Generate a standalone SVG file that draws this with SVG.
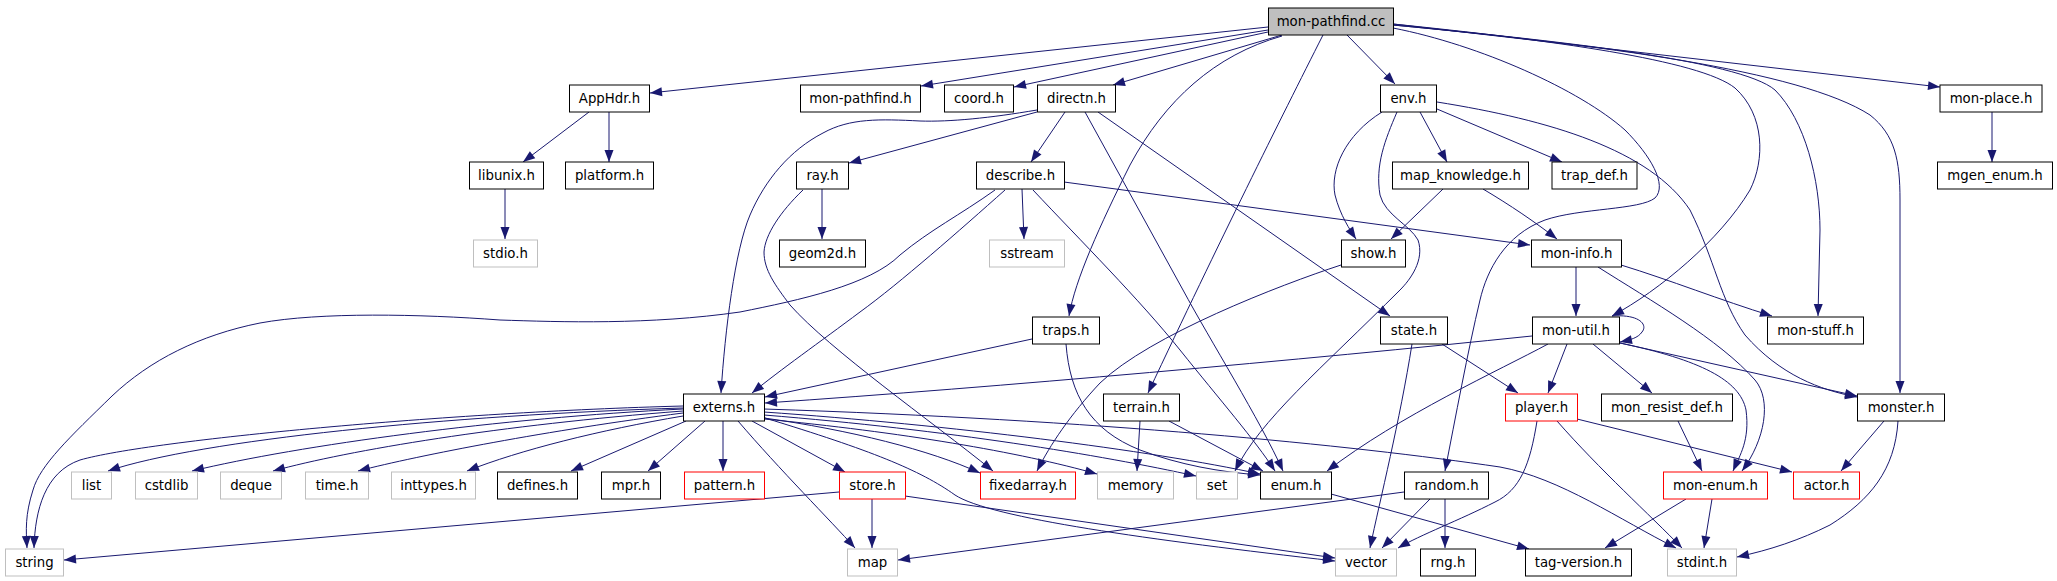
<svg xmlns="http://www.w3.org/2000/svg" width="2057" height="581" viewBox="0 0 2057 581">
<style>
.n rect{fill:#fff;stroke:#000;stroke-width:1}
.n.g rect{stroke:#bfbfbf}
.n.r rect{stroke:#ff0000}
.n.root rect{fill:#bfbfbf}
.n text{font-family:"DejaVu Sans","Liberation Sans",sans-serif;font-size:13.3px;fill:#000;text-anchor:middle}
#edges path{fill:none;stroke:#191970;stroke-width:1;marker-end:url(#a)}
</style>
<defs>
<marker id="a" markerUnits="userSpaceOnUse" markerWidth="13" markerHeight="10" refX="12" refY="5" orient="auto" viewBox="0 0 12 10">
<path d="M0,0.5 L12,5 L0,9.5 z" fill="#191970"/>
</marker>
</defs>
<rect width="2057" height="581" fill="#fff"/>
<g id="edges">
<path d="M1268,27 L650,93"/>
<path d="M1268,30 L921,86"/>
<path d="M1268,32 L1014,87"/>
<path d="M1282,35 L1113,85"/>
<path d="M1282,36 C1215,55 1165,100 1130,165 C1100,225 1075,280 1069,316"/>
<path d="M1323,35 C1280,120 1220,240 1148,393"/>
<path d="M1347,35 L1395,84"/>
<path d="M1393,28 C1480,45 1580,90 1625,130 C1650,155 1668,185 1655,198 C1640,210 1580,208 1545,220 C1505,235 1487,270 1480,300 C1468,350 1455,420 1445,471"/>
<path d="M1393,24 C1550,40 1700,60 1735,88 C1765,115 1765,160 1750,190 C1720,240 1660,290 1612,316"/>
<path d="M1393,25 C1550,40 1740,60 1775,90 C1805,120 1820,180 1820,230 L1818,316"/>
<path d="M1393,25 C1600,45 1800,70 1870,115 C1895,135 1900,160 1900,200 L1900,393"/>
<path d="M1393,24 L1940,87"/>
<path d="M589,112 L523,162"/>
<path d="M609,112 L609,162"/>
<path d="M505,189 L505,239"/>
<path d="M1037,112 L849,163"/>
<path d="M1037,110 C990,118 950,122 920,121 C880,119 850,118 823,133 C790,150 765,180 750,215 C735,250 725,330 721,393"/>
<path d="M1065,112 L1031,162"/>
<path d="M1085,112 L1183,290 C1210,340 1260,420 1283,471"/>
<path d="M1098,112 L1390,316"/>
<path d="M822,189 L822,239"/>
<path d="M803,190 C780,212 765,235 764,252 C764,270 775,285 790,305 C830,350 930,420 993,471"/>
<path d="M995,190 C960,215 930,230 900,255 C870,285 800,300 740,312 C650,325 560,322 500,320 C420,314 320,312 260,323 C200,335 150,360 112,396 C70,437 40,465 33,490 C25,515 26,530 27,548"/>
<path d="M1005,190 C960,230 900,283 860,312 C820,342 780,370 752,393"/>
<path d="M1022,189 L1024,239"/>
<path d="M1033,190 C1080,240 1140,300 1180,350 C1220,400 1255,440 1275,471"/>
<path d="M1064,182 L1530,245"/>
<path d="M1382,112 C1345,135 1330,170 1335,195 C1340,215 1350,230 1356,239"/>
<path d="M1397,112 C1385,140 1375,165 1380,195 C1385,215 1410,225 1418,240 C1425,260 1410,280 1400,290 C1320,370 1260,420 1235,471"/>
<path d="M1420,112 L1447,162"/>
<path d="M1437,109 L1562,162"/>
<path d="M1437,102 C1550,120 1650,150 1690,210 C1715,260 1720,300 1745,335 C1780,375 1820,390 1857,397"/>
<path d="M1443,189 L1391,239"/>
<path d="M1483,189 C1510,205 1535,222 1557,239"/>
<path d="M1341,265 C1280,285 1150,335 1100,383 C1070,415 1050,445 1037,471"/>
<path d="M1576,267 L1576,316"/>
<path d="M1621,265 C1670,280 1720,300 1772,316"/>
<path d="M1598,267 C1650,300 1720,340 1755,380 C1772,400 1765,440 1742,471"/>
<path d="M1032,339 L765,397"/>
<path d="M1066,344 C1070,395 1090,430 1140,450 C1180,465 1220,472 1260,475"/>
<path d="M1442,344 L1518,393"/>
<path d="M1412,344 C1400,420 1380,500 1370,548"/>
<path d="M1140,421 L1137,471"/>
<path d="M1169,421 L1263,471"/>
<path d="M1532,336 C1300,360 1000,387 765,403"/>
<path d="M1548,344 C1500,370 1400,415 1327,471"/>
<path d="M1567,344 L1548,393"/>
<path d="M1593,344 L1652,393"/>
<path d="M1620,343 L1857,396"/>
<path d="M1620,343 C1700,360 1740,380 1746,410 C1750,440 1740,455 1733,471"/>
<path d="M1612,316 C1640,314 1648,325 1642,332 C1638,338 1630,340 1620,342"/>
<path d="M1678,421 L1702,471"/>
<path d="M1577,419 L1792,472"/>
<path d="M1537,421 C1530,465 1520,490 1495,502 C1460,520 1420,535 1398,548"/>
<path d="M1557,421 C1600,470 1650,515 1682,548"/>
<path d="M1884,421 L1841,471"/>
<path d="M1898,421 C1895,470 1870,500 1830,525 C1800,540 1770,550 1737,557"/>
<path d="M1686,499 L1605,548"/>
<path d="M1712,499 L1704,548"/>
<path d="M1430,499 L1382,548"/>
<path d="M1445,499 L1445,548"/>
<path d="M1404,492 L898,560"/>
<path d="M1331,494 L1529,549"/>
<path d="M1992,112 L1992,162"/>
<path d="M683,406 C450,412 150,440 80,460 C45,472 35,510 34,548"/>
<path d="M683,408 C450,415 200,440 108,471"/>
<path d="M683,409 C500,418 300,445 192,471"/>
<path d="M683,411 C500,425 350,450 273,471"/>
<path d="M683,413 C550,430 420,455 358,471"/>
<path d="M683,416 C600,430 520,450 467,471"/>
<path d="M686,421 L571,471"/>
<path d="M705,421 L648,471"/>
<path d="M723,421 L723,471"/>
<path d="M752,421 L845,472"/>
<path d="M738,421 C780,470 830,520 855,548"/>
<path d="M764,418 C850,430 930,450 980,473"/>
<path d="M764,419 C900,432 1020,452 1097,474"/>
<path d="M764,415 C950,430 1100,455 1196,476"/>
<path d="M764,412 C950,425 1150,450 1260,474"/>
<path d="M765,418 C870,450 920,470 955,495 C990,518 1150,540 1335,561"/>
<path d="M764,409 C1100,420 1350,445 1500,467 C1560,478 1620,520 1676,548"/>
<path d="M905,496 L1335,558"/>
<path d="M839,492 L64,560"/>
<path d="M872,499 L872,548"/>
</g>
<g id="node-mon-pathfind-cc" class="n root"><rect x="1268.5" y="8" width="125" height="27"/><text x="1331" y="26">mon-pathfind.cc</text></g>
<g id="node-AppHdr-h" class="n"><rect x="569.5" y="85" width="80" height="27"/><text x="609.5" y="103">AppHdr.h</text></g>
<g id="node-mon-pathfind-h" class="n"><rect x="800.5" y="85" width="120" height="27"/><text x="860.5" y="103">mon-pathfind.h</text></g>
<g id="node-coord-h" class="n"><rect x="944.5" y="85" width="69" height="27"/><text x="979" y="103">coord.h</text></g>
<g id="node-directn-h" class="n"><rect x="1037.5" y="85" width="78" height="27"/><text x="1076.5" y="103">directn.h</text></g>
<g id="node-env-h" class="n"><rect x="1380.5" y="85" width="56" height="27"/><text x="1408.5" y="103">env.h</text></g>
<g id="node-mon-place-h" class="n"><rect x="1940" y="85" width="102" height="27"/><text x="1991" y="103">mon-place.h</text></g>
<g id="node-libunix-h" class="n"><rect x="469.5" y="162" width="74" height="27"/><text x="506.5" y="180">libunix.h</text></g>
<g id="node-platform-h" class="n"><rect x="565.5" y="162" width="88" height="27"/><text x="609.5" y="180">platform.h</text></g>
<g id="node-ray-h" class="n"><rect x="796.5" y="162" width="52" height="27"/><text x="822.5" y="180">ray.h</text></g>
<g id="node-describe-h" class="n"><rect x="976.5" y="162" width="88" height="27"/><text x="1020.5" y="180">describe.h</text></g>
<g id="node-map_knowledge-h" class="n"><rect x="1392.5" y="162" width="136" height="27"/><text x="1460.5" y="180">map_knowledge.h</text></g>
<g id="node-trap_def-h" class="n"><rect x="1552" y="162" width="85" height="27"/><text x="1594.5" y="180">trap_def.h</text></g>
<g id="node-mgen_enum-h" class="n"><rect x="1937.5" y="162" width="115" height="27"/><text x="1995" y="180">mgen_enum.h</text></g>
<g id="node-stdio-h" class="n g"><rect x="473.5" y="240" width="64" height="27"/><text x="505.5" y="258">stdio.h</text></g>
<g id="node-geom2d-h" class="n"><rect x="779.5" y="240" width="86" height="27"/><text x="822.5" y="258">geom2d.h</text></g>
<g id="node-sstream" class="n g"><rect x="989.5" y="240" width="75" height="27"/><text x="1027" y="258">sstream</text></g>
<g id="node-show-h" class="n"><rect x="1341.5" y="240" width="64" height="27"/><text x="1373.5" y="258">show.h</text></g>
<g id="node-mon-info-h" class="n"><rect x="1531.5" y="240" width="90" height="27"/><text x="1576.5" y="258">mon-info.h</text></g>
<g id="node-traps-h" class="n"><rect x="1032.5" y="317" width="67" height="27"/><text x="1066" y="335">traps.h</text></g>
<g id="node-state-h" class="n"><rect x="1380.5" y="317" width="67" height="27"/><text x="1414" y="335">state.h</text></g>
<g id="node-mon-util-h" class="n"><rect x="1532.5" y="317" width="87" height="27"/><text x="1576" y="335">mon-util.h</text></g>
<g id="node-mon-stuff-h" class="n"><rect x="1767.5" y="317" width="96" height="27"/><text x="1815.5" y="335">mon-stuff.h</text></g>
<g id="node-externs-h" class="n"><rect x="683.5" y="394" width="81" height="27"/><text x="724" y="412">externs.h</text></g>
<g id="node-terrain-h" class="n"><rect x="1103.5" y="394" width="76" height="27"/><text x="1141.5" y="412">terrain.h</text></g>
<g id="node-player-h" class="n r"><rect x="1505.5" y="394" width="72" height="27"/><text x="1541.5" y="412">player.h</text></g>
<g id="node-mon_resist_def-h" class="n"><rect x="1601.5" y="394" width="131" height="27"/><text x="1667" y="412">mon_resist_def.h</text></g>
<g id="node-monster-h" class="n"><rect x="1857.5" y="394" width="87" height="27"/><text x="1901" y="412">monster.h</text></g>
<g id="node-list" class="n g"><rect x="71.5" y="472" width="40" height="27"/><text x="91.5" y="490">list</text></g>
<g id="node-cstdlib" class="n g"><rect x="135.5" y="472" width="62" height="27"/><text x="166.5" y="490">cstdlib</text></g>
<g id="node-deque" class="n g"><rect x="220.5" y="472" width="61" height="27"/><text x="251" y="490">deque</text></g>
<g id="node-time-h" class="n g"><rect x="305.5" y="472" width="63" height="27"/><text x="337" y="490">time.h</text></g>
<g id="node-inttypes-h" class="n g"><rect x="391.5" y="472" width="84" height="27"/><text x="433.5" y="490">inttypes.h</text></g>
<g id="node-defines-h" class="n"><rect x="497.5" y="472" width="80" height="27"/><text x="537.5" y="490">defines.h</text></g>
<g id="node-mpr-h" class="n"><rect x="601.5" y="472" width="59" height="27"/><text x="631" y="490">mpr.h</text></g>
<g id="node-pattern-h" class="n r"><rect x="684.5" y="472" width="80" height="27"/><text x="724.5" y="490">pattern.h</text></g>
<g id="node-store-h" class="n r"><rect x="839.5" y="472" width="66" height="27"/><text x="872.5" y="490">store.h</text></g>
<g id="node-fixedarray-h" class="n r"><rect x="980.5" y="472" width="95" height="27"/><text x="1028" y="490">fixedarray.h</text></g>
<g id="node-memory" class="n g"><rect x="1097.5" y="472" width="76" height="27"/><text x="1135.5" y="490">memory</text></g>
<g id="node-set" class="n g"><rect x="1196.5" y="472" width="41" height="27"/><text x="1217" y="490">set</text></g>
<g id="node-enum-h" class="n"><rect x="1260.5" y="472" width="71" height="27"/><text x="1296" y="490">enum.h</text></g>
<g id="node-random-h" class="n"><rect x="1404.5" y="472" width="84" height="27"/><text x="1446.5" y="490">random.h</text></g>
<g id="node-mon-enum-h" class="n r"><rect x="1663.5" y="472" width="104" height="27"/><text x="1715.5" y="490">mon-enum.h</text></g>
<g id="node-actor-h" class="n r"><rect x="1793.5" y="472" width="66" height="27"/><text x="1826.5" y="490">actor.h</text></g>
<g id="node-string" class="n g"><rect x="5.5" y="549" width="58" height="27"/><text x="34.5" y="567">string</text></g>
<g id="node-map" class="n g"><rect x="847.5" y="549" width="50" height="27"/><text x="872.5" y="567">map</text></g>
<g id="node-vector" class="n g"><rect x="1335.5" y="549" width="61" height="27"/><text x="1366" y="567">vector</text></g>
<g id="node-rng-h" class="n"><rect x="1420.5" y="549" width="55" height="27"/><text x="1448" y="567">rng.h</text></g>
<g id="node-tag-version-h" class="n"><rect x="1525.5" y="549" width="106" height="27"/><text x="1578.5" y="567">tag-version.h</text></g>
<g id="node-stdint-h" class="n g"><rect x="1667.5" y="549" width="69" height="27"/><text x="1702" y="567">stdint.h</text></g>
</svg>
